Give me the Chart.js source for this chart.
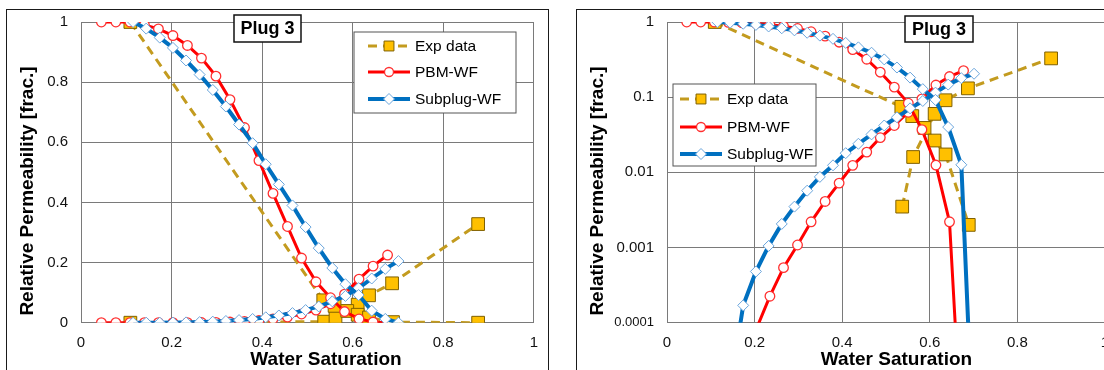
<!DOCTYPE html>
<html>
<head>
<meta charset="utf-8">
<script src="https://cdn.jsdelivr.net/npm/chart.js@4.4.1/dist/chart.umd.min.js"></script>
<style>
  html, body { margin: 0; padding: 0; background: #fff; overflow: hidden; }
  #wrap { position: relative; width: 1104px; height: 370px; overflow: hidden; }
  .panel { position: absolute; border: 1.5px solid #1a1a1a; }
  canvas { position: absolute; top: 0; }
</style>
</head>
<body>
<div id="wrap">
  <div class="panel" style="left:6px;top:9px;width:541px;height:400px"></div>
  <div class="panel" style="left:576px;top:9px;width:600px;height:400px"></div>
  <canvas id="linChart" width="549" height="370" style="left:0"></canvas>
  <canvas id="logChart" width="545" height="370" style="left:576px"></canvas>
</div>
<script>
// water saturation ticks and the two kinds of y ticks
var xTicks = [0, 0.2, 0.4, 0.6, 0.8, 1];
var linTicks = [0, 0.2, 0.4, 0.6, 0.8, 1];
var logTicks = [0.0001, 0.001, 0.01, 0.1, 1];

// experimental points (oil and water rel perm)
var expSwO = [0.109, 0.535, 0.560, 0.588, 0.611, 0.636, 0.689, 0.877];
var expKro = [1.0, 0.0745, 0.056, 0.039, 0.0265, 0.0173, 0.002, 0];
var expSwW = [0.109, 0.537, 0.562, 0.611, 0.636, 0.687, 0.877];
var expKrw = [0, 0.0035, 0.016, 0.06, 0.091, 0.131, 0.328];

// PBM-WF model
var pbmSw = [0.045, 0.077, 0.108, 0.140, 0.171, 0.203, 0.235, 0.266, 0.298, 0.329, 0.361,
             0.393, 0.424, 0.456, 0.487, 0.519, 0.551, 0.582, 0.614, 0.645, 0.677];
var pbmKro = [1.0, 1.0, 1.0, 0.99, 0.977, 0.955, 0.922, 0.88, 0.82, 0.742, 0.649,
              0.539, 0.43, 0.32, 0.215, 0.136, 0.083, 0.037, 0.0125, 0.0022, 0.000001];
var pbmKrw = [0.00000001, 0.0000001, 0.0000004, 0.000002, 0.000015, 0.00008, 0.000225, 0.00054, 0.00108, 0.0022, 0.0041,
              0.0072, 0.0124, 0.0186, 0.029, 0.042, 0.063, 0.095, 0.145, 0.188, 0.225];

// Subplug-WF model
var subSw = [0.115, 0.144, 0.174, 0.203, 0.232, 0.262, 0.291, 0.320, 0.349, 0.379, 0.408,
             0.437, 0.467, 0.496, 0.525, 0.555, 0.584, 0.613, 0.642, 0.672, 0.701];
var subKro = [1.0, 0.978, 0.948, 0.914, 0.872, 0.825, 0.774, 0.719, 0.659, 0.597, 0.527,
              0.46, 0.39, 0.318, 0.248, 0.182, 0.128, 0.092, 0.04, 0.0126, 0.0000015];
var subKrw = [0.000001, 0.000013, 0.00017, 0.00048, 0.00105, 0.00206, 0.0035, 0.0057, 0.0087, 0.0124, 0.018,
              0.024, 0.032, 0.042, 0.054, 0.071, 0.089, 0.115, 0.147, 0.179, 0.205];

Chart.defaults.font.family = '"Liberation Sans", Arial, sans-serif';
Chart.defaults.color = '#111';

var expStyle = { borderColor: '#c39b1f', borderWidth: 3, borderDash: [9, 6], pointStyle: 'rect',
  pointRadius: 9, pointBackgroundColor: '#ffc000', pointBorderColor: '#7f6000', pointBorderWidth: 1, order: 3 };
var pbmStyle = { borderColor: '#ff0000', borderWidth: 3, pointStyle: 'circle', pointRadius: 4.8,
  pointBackgroundColor: '#ffffff', pointBorderColor: '#ff3030', pointBorderWidth: 1.3, order: 2 };
var subStyle = { borderColor: '#0070c0', borderWidth: 4, pointStyle: 'rectRot', pointRadius: 5.5,
  pointBackgroundColor: '#ffffff', pointBorderColor: '#6aa5dc', pointBorderWidth: 1, order: 1 };

function pts(xs, ys, logMode) {
  return xs.map(function (x, i) {
    var y = ys[i];
    if (logMode && !(y > 0)) y = null;
    return { x: x, y: y };
  });
}

function makeDatasets(logMode) {
  return [
    Object.assign({ label: 'Exp data', data: pts(expSwO, expKro, logMode) }, expStyle),
    Object.assign({ label: 'Exp data', data: pts(expSwW, expKrw, logMode) }, expStyle),
    Object.assign({ label: 'PBM-WF', data: pts(pbmSw, pbmKro, logMode) }, pbmStyle),
    Object.assign({ label: 'PBM-WF', data: pts(pbmSw, pbmKrw, logMode) }, pbmStyle),
    Object.assign({ label: 'Subplug-WF', data: pts(subSw, subKro, logMode) }, subStyle),
    Object.assign({ label: 'Subplug-WF', data: pts(subSw, subKrw, logMode) }, subStyle)
  ];
}

// titles, "Plug 3" label and legend box drawn on top of the chart
function makeDecor(cfg) {
  return {
    id: 'decor',
    afterDraw: function (chart) {
      var ctx = chart.ctx;
      ctx.save();
      ctx.fillStyle = '#000';
      ctx.font = 'bold 19px "Liberation Sans", Arial, sans-serif';
      ctx.textAlign = 'center';
      ctx.textBaseline = 'alphabetic';
      ctx.fillText('Water Saturation', cfg.xTitleX, 365);
      ctx.save();
      ctx.translate(cfg.yTitleX, 191);
      ctx.rotate(-Math.PI / 2);
      ctx.fillText('Relative Permeability [frac.]', 0, 0);
      ctx.restore();

      // Plug 3 box
      var p = cfg.plug;
      ctx.fillStyle = '#fff';
      ctx.fillRect(p.x, p.y, p.w, p.h);
      ctx.strokeStyle = '#111';
      ctx.lineWidth = 1.5;
      ctx.strokeRect(p.x, p.y, p.w, p.h);
      ctx.fillStyle = '#000';
      ctx.font = 'bold 18px "Liberation Sans", Arial, sans-serif';
      ctx.textBaseline = 'middle';
      ctx.fillText('Plug 3', p.x + p.w / 2, p.y + p.h / 2 + 1);

      // legend
      var L = cfg.legend;
      ctx.fillStyle = '#fff';
      ctx.fillRect(L.x, L.y, L.w, L.h);
      ctx.strokeStyle = '#555';
      ctx.lineWidth = 1;
      ctx.strokeRect(L.x, L.y, L.w, L.h);
      var rows = [
        { text: 'Exp data', s: expStyle, r: 7 },
        { text: 'PBM-WF', s: pbmStyle, r: 4.5 },
        { text: 'Subplug-WF', s: subStyle, r: 5.5 }
      ];
      ctx.font = '15.5px "Liberation Sans", Arial, sans-serif';
      ctx.textAlign = 'left';
      rows.forEach(function (row, i) {
        var y = L.rowY[i];
        ctx.setLineDash(row.s.borderDash || []);
        ctx.strokeStyle = row.s.borderColor;
        ctx.lineWidth = row.s.borderWidth;
        ctx.beginPath();
        ctx.moveTo(L.lx0, y);
        ctx.lineTo(L.lx1, y);
        ctx.stroke();
        ctx.setLineDash([]);
        ctx.fillStyle = row.s.pointBackgroundColor;
        ctx.strokeStyle = row.s.pointBorderColor;
        ctx.lineWidth = row.s.pointBorderWidth;
        Chart.helpers.drawPoint(ctx, { pointStyle: row.s.pointStyle, radius: row.r,
          borderWidth: row.s.pointBorderWidth, rotation: 0 }, (L.lx0 + L.lx1) / 2, y);
        ctx.fillStyle = '#000';
        ctx.fillText(row.text, L.tx, y + 1);
      });
      ctx.restore();
    }
  };
}

function makeOptions(isLog, yWidth, padRight) {
  var gridCfg = { color: '#7a7a7a', lineWidth: 1, drawTicks: false };
  var borderCfg = { color: '#7a7a7a', width: 1 };
  return {
    responsive: false,
    animation: false,
    events: [],
    layout: { padding: { left: 0, right: padRight, top: 20.7, bottom: 0 } },
    plugins: { legend: { display: false }, tooltip: { enabled: false } },
    scales: {
      x: {
        type: 'linear', min: 0, max: 1,
        afterBuildTicks: function (s) { s.ticks = xTicks.map(function (v) { return { value: v }; }); },
        afterFit: function (s) { s.height = 47.3; },
        grid: gridCfg, border: borderCfg,
        ticks: { padding: 11, font: { size: 15 }, color: '#111',
          callback: function (v) { return String(v); } }
      },
      y: {
        type: isLog ? 'logarithmic' : 'linear',
        min: isLog ? 0.0001 : 0, max: 1,
        afterBuildTicks: function (s) {
          s.ticks = (isLog ? logTicks : linTicks).map(function (v) { return { value: v }; });
        },
        afterFit: function (s) { s.width = yWidth; },
        grid: gridCfg, border: borderCfg,
        ticks: {
          padding: 13, color: '#111',
          font: function (c) { return { size: (c.tick && c.tick.value === 0.0001) ? 13 : 15 }; },
          callback: function (v) { return String(v); }
        }
      }
    }
  };
}

new Chart(document.getElementById('linChart').getContext('2d'), {
  type: 'line',
  data: { datasets: makeDatasets(false) },
  options: makeOptions(false, 81, 14),
  plugins: [makeDecor({
    xTitleX: 326, yTitleX: 32.5,
    plug: { x: 234, y: 15, w: 67, h: 27 },
    legend: { x: 354, y: 32, w: 162, h: 81, rowY: [46, 72, 99], lx0: 368, lx1: 410, tx: 415 }
  })]
});

new Chart(document.getElementById('logChart').getContext('2d'), {
  type: 'line',
  data: { datasets: makeDatasets(true) },
  options: makeOptions(true, 91, 16),
  plugins: [makeDecor({
    xTitleX: 320.5, yTitleX: 27,
    plug: { x: 329, y: 16, w: 68, h: 26 },
    legend: { x: 97, y: 84, w: 143, h: 82, rowY: [99, 127, 154], lx0: 104, lx1: 146, tx: 151 }
  })]
});
</script>
</body>
</html>
